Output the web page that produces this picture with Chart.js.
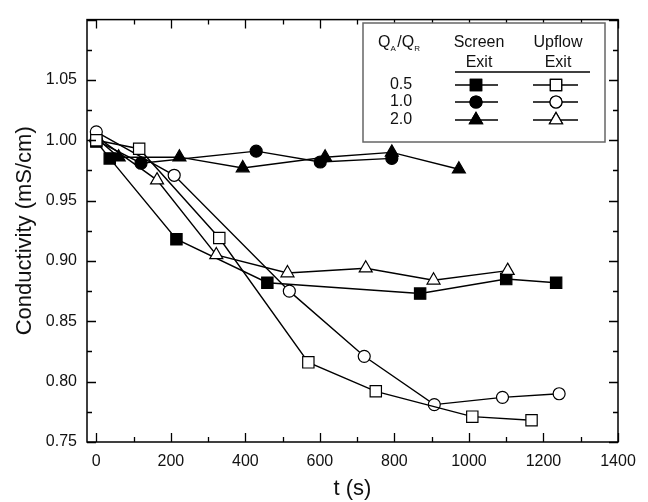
<!DOCTYPE html>
<html>
<head>
<meta charset="utf-8">
<script src="https://cdn.jsdelivr.net/npm/chart.js@4/dist/chart.umd.min.js"></script>
<style>
  html, body { margin: 0; padding: 0; background: #fff; }
  canvas { display: block; }
</style>
</head>
<body>
<canvas id="c" width="648" height="502"></canvas>
<script>
// ---- data ----
const timeScreen05 = [0, 36, 215, 459, 869, 1100, 1234];
const condScreen05 = [0.999, 0.985, 0.918, 0.882, 0.873, 0.885, 0.882];
const timeScreen10 = [0, 120, 429, 601, 793];
const condScreen10 = [1.000, 0.981, 0.991, 0.982, 0.985];
const timeScreen20 = [0, 60, 223, 393, 614, 793, 973];
const condScreen20 = [1.002, 0.986, 0.986, 0.977, 0.986, 0.990, 0.976];
const timeUpflow05 = [0, 115, 330, 569, 750, 1009, 1168];
const condUpflow05 = [1.000, 0.993, 0.919, 0.816, 0.792, 0.771, 0.768];
const timeUpflow10 = [0, 209, 518, 719, 907, 1090, 1242];
const condUpflow10 = [1.007, 0.971, 0.875, 0.821, 0.781, 0.787, 0.790];
const timeUpflow20 = [0, 163, 322, 513, 723, 905, 1104];
const condUpflow20 = [1.003, 0.967, 0.905, 0.890, 0.894, 0.884, 0.892];

const xTickLabels = [0, 200, 400, 600, 800, 1000, 1200, 1400];
const yTickLabels = [0.75, 0.80, 0.85, 0.90, 0.95, 1.00, 1.05];
const ratioLabels = ['0.5', '1.0', '2.0'];

function pts(xs, ys) { return xs.map((x, i) => ({ x: x, y: ys[i] })); }

const FONT = '"Liberation Sans", Arial, sans-serif';
const R_RECT = 8, R_CIRC = 6, R_TRI = 7.5;

function ds(label, xs, ys, style, filled, radius) {
  return {
    label: label,
    data: pts(xs, ys),
    borderColor: '#000',
    borderWidth: 1.4,
    pointStyle: style,
    pointRadius: radius,
    pointHoverRadius: radius,
    pointBackgroundColor: filled ? '#000' : '#fff',
    pointBorderColor: '#000',
    pointBorderWidth: 1.2,
    tension: 0,
    fill: false
  };
}

const datasets = [
  ds('Upflow 0.5', timeUpflow05, condUpflow05, 'rect', false, R_RECT),
  ds('Upflow 1.0', timeUpflow10, condUpflow10, 'circle', false, R_CIRC),
  ds('Upflow 2.0', timeUpflow20, condUpflow20, 'triangle', false, R_TRI),
  ds('Screen 0.5', timeScreen05, condScreen05, 'rect', true, R_RECT),
  ds('Screen 1.0', timeScreen10, condScreen10, 'circle', true, R_CIRC),
  ds('Screen 2.0', timeScreen20, condScreen20, 'triangle', true, R_TRI)
];

function drawMarker(ctx, style, radius, x, y, filled) {
  ctx.save();
  ctx.fillStyle = filled ? '#000' : '#fff';
  ctx.strokeStyle = '#000';
  ctx.lineWidth = 1.2;
  if (window.Chart && Chart.helpers && Chart.helpers.drawPoint) {
    Chart.helpers.drawPoint(ctx, { pointStyle: style, radius: radius, rotation: 0, borderWidth: 1.2 }, x, y);
    ctx.fill();
    ctx.stroke();
  }
  ctx.restore();
}

// frame + inward ticks on all four sides, positioned via the scales
const framePlugin = {
  id: 'frame',
  afterDatasetsDraw(chart) {
    const { ctx, chartArea: a, scales } = chart;
    const xs = scales.x, ys = scales.y;
    ctx.save();
    ctx.strokeStyle = '#000';
    ctx.lineWidth = 1.5;
    ctx.strokeRect(a.left, a.top, a.right - a.left, a.bottom - a.top);
    ctx.lineWidth = 1.3;
    ctx.beginPath();
    for (let v = 0; v <= 1400; v += 100) {
      const px = Math.round(xs.getPixelForValue(v)) + 0.5;
      const len = (v % 200 === 0) ? 9 : 5;
      ctx.moveTo(px, a.bottom); ctx.lineTo(px, a.bottom - len);
      ctx.moveTo(px, a.top); ctx.lineTo(px, a.top + len);
    }
    for (let k = 0; k <= 14; k++) {
      const v = 0.75 + k * 0.025;
      const py = Math.round(ys.getPixelForValue(v)) + 0.5;
      const len = (k % 2 === 0) ? 9 : 5;
      ctx.moveTo(a.left, py); ctx.lineTo(a.left + len, py);
      ctx.moveTo(a.right, py); ctx.lineTo(a.right - len, py);
    }
    ctx.stroke();
    ctx.restore();
  },
  afterDraw(chart) {
    const ctx = chart.ctx;
    // legend table
    const bx = 363, by = 23, bw = 242, bh = 119;
    ctx.save();
    ctx.fillStyle = '#fff';
    ctx.fillRect(bx, by, bw, bh);
    ctx.strokeStyle = '#666';
    ctx.lineWidth = 1.5;
    ctx.strokeRect(bx, by, bw, bh);

    ctx.fillStyle = '#111';
    ctx.textBaseline = 'middle';
    // header Q_A/Q_R
    ctx.textAlign = 'left';
    let hx = 378, hy = 43;
    const parts = [['Q', 16, 0], ['A', 8, 6], ['/Q', 16, 0], ['R', 8, 6]];
    parts.forEach(p => {
      ctx.font = p[1] + 'px ' + FONT;
      ctx.fillText(p[0], hx, hy + p[2]);
      hx += ctx.measureText(p[0]).width + (p[1] < 10 ? 1.5 : 0);
    });
    ctx.font = '16px ' + FONT;
    ctx.textAlign = 'center';
    ctx.fillText('Screen', 479, 43);
    ctx.fillText('Upflow', 558, 43);
    ctx.fillText('Exit', 479, 63);
    ctx.fillText('Exit', 558, 63);
    ctx.strokeStyle = '#000';
    ctx.lineWidth = 1.3;
    ctx.beginPath();
    ctx.moveTo(455, 72); ctx.lineTo(590, 72);
    ctx.stroke();

    const rowsY = [85, 102, 120];
    const styles = ['rect', 'circle', 'triangle'];
    const radii = [R_RECT, R_CIRC, R_TRI];
    rowsY.forEach((ry, i) => {
      ctx.fillStyle = '#111';
      ctx.fillText(ratioLabels[i], 401, ry);
      ctx.beginPath();
      ctx.moveTo(455, ry); ctx.lineTo(498, ry);
      ctx.moveTo(533, ry); ctx.lineTo(578, ry);
      ctx.lineWidth = 1.4;
      ctx.stroke();
      drawMarker(ctx, styles[i], radii[i], 476, ry, true);
      drawMarker(ctx, styles[i], radii[i], 556, ry, false);
    });
    ctx.restore();
  }
};

new Chart(document.getElementById('c'), {
  type: 'line',
  data: { datasets: datasets },
  options: {
    responsive: false,
    animation: false,
    devicePixelRatio: 1,
    layout: { padding: { top: 14, right: 30, bottom: 0, left: 0 } },
    plugins: { legend: { display: false }, tooltip: { enabled: false } },
    elements: { line: { tension: 0 } },
    scales: {
      x: {
        type: 'linear',
        min: -25,
        max: 1400,
        grid: { display: false, drawTicks: false },
        border: { display: false },
        afterBuildTicks: s => { s.ticks = xTickLabels.map(v => ({ value: v })); },
        afterFit: s => { s.height = 60; },
        ticks: {
          color: '#111',
          font: { family: FONT, size: 16 },
          padding: 10,
          maxRotation: 0,
          autoSkip: false,
          callback: v => String(v)
        },
        title: {
          display: true,
          text: 't (s)',
          color: '#111',
          font: { family: FONT, size: 22 },
          padding: { top: 0, bottom: 0 }
        }
      },
      y: {
        type: 'linear',
        min: 0.75,
        max: 1.10,
        grid: { display: false, drawTicks: false },
        border: { display: false },
        afterBuildTicks: s => { s.ticks = yTickLabels.map(v => ({ value: v })); },
        afterFit: s => { s.width = 87; },
        ticks: {
          color: '#111',
          font: { family: FONT, size: 16 },
          padding: 10,
          autoSkip: false,
          callback: v => Number(v).toFixed(2)
        },
        title: {
          display: true,
          text: 'Conductivity (mS/cm)',
          color: '#111',
          font: { family: FONT, size: 22 },
          padding: { top: 12, bottom: 0 }
        }
      }
    }
  },
  plugins: [framePlugin]
});
</script>
</body>
</html>
